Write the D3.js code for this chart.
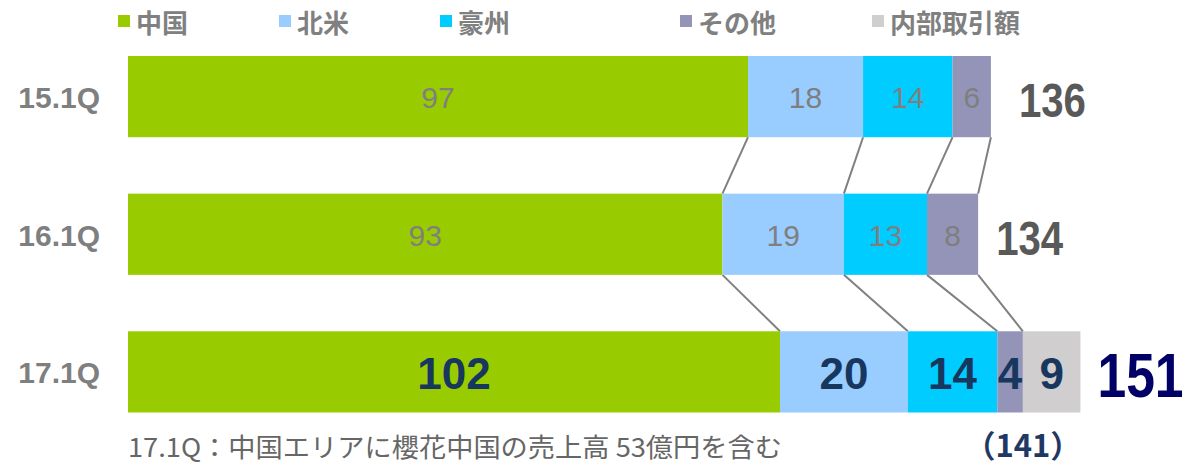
<!DOCTYPE html>
<html><head><meta charset="utf-8">
<script src="https://cdn.jsdelivr.net/npm/d3@7"></script>
<style>html,body{margin:0;padding:0;background:#fff;}svg{display:block;}</style>
</head><body>
<svg id="chart" width="1183" height="464"></svg>
<script>
// ---- data ----
const categories = ["15.1Q", "16.1Q", "17.1Q"];
const seriesNames = ["中国", "北米", "豪州", "その他", "内部取引額"];
const china = [97, 93, 102];
const northAmerica = [18, 19, 20];
const australia = [14, 13, 14];
const others = [6, 8, 4];
const internalTx = [0, 0, 9];
const totals = [136, 134, 151];
const externalTotal17 = 141;
const footnote = "17.1Q：中国エリアに櫻花中国の売上高 53億円を含む";

// ---- styles / layout ----
const colors = ["#99cc00", "#99ccff", "#00ccff", "#9494b8", "#d0cece"];
const legendX = [118, 279, 440, 680, 872];
const totalNudge = [28, 18, 17];

const svg = d3.select("#chart");
const seriesValues = [china, northAmerica, australia, others, internalTx];

const x = d3.scaleLinear().domain([0, 165]).range([128, 128 + 6.392 * 165]);
const y = d3.scaleBand().domain(categories).range([56, 412.5]).paddingInner(0.41).paddingOuter(0);
const bw = y.bandwidth();

// build stacked rows
const rows = categories.map((c, i) => {
  const obj = {cat: c};
  seriesNames.forEach((s, k) => obj[s] = seriesValues[k][i]);
  return obj;
});
const stack = d3.stack().keys(seriesNames)(rows);

// connectors
const conn = svg.append("g");
for (let i = 0; i < categories.length - 1; i++) {
  for (let k = 0; k < 4; k++) {
    conn.append("line")
      .attr("x1", x(stack[k][i][1])).attr("y1", y(categories[i]) + bw)
      .attr("x2", x(stack[k][i + 1][1])).attr("y2", y(categories[i + 1]))
      .attr("stroke", "#808080").attr("stroke-width", 2);
  }
}

// bars
stack.forEach((layer, k) => {
  svg.append("g").selectAll("rect").data(layer).join("rect")
    .attr("x", d => x(d[0]))
    .attr("y", d => y(d.data.cat))
    .attr("width", d => x(d[1]) - x(d[0]))
    .attr("height", bw)
    .attr("fill", colors[k]);
});

// inside labels
stack.forEach((layer, k) => {
  layer.forEach((d, i) => {
    const v = d[1] - d[0];
    if (!v) return;
    const last = i === categories.length - 1;
    svg.append("text")
      .attr("x", (x(d[0]) + x(d[1])) / 2)
      .attr("y", y(d.data.cat) + bw / 2 + (last ? 2 : 1))
      .attr("text-anchor", "middle")
      .attr("dominant-baseline", "central")
      .attr("font-family", "Liberation Sans, Arial, sans-serif")
      .attr("font-size", last ? 44 : 30)
      .attr("font-weight", last ? "bold" : "normal")
      .attr("fill", last ? "#17375e" : "#7f7f7f")
      .text(v);
  });
});

// category labels
svg.append("g").selectAll("text").data(categories).join("text")
  .attr("x", 100).attr("y", d => y(d) + bw / 2 + 1)
  .attr("text-anchor", "end").attr("dominant-baseline", "central")
  .attr("font-family", "Liberation Sans, Arial, sans-serif")
  .attr("font-size", 30).attr("font-weight", "bold")
  .attr("fill", "#7f7f7f")
  .text(d => d);

// totals
categories.forEach((c, i) => {
  const end = stack[stack.length - 1][i][1];
  const last = i === categories.length - 1;
  const tx = x(end) + totalNudge[i];
  const ty = y(c) + bw / 2 + 3;
  svg.append("text")
    .attr("transform", `translate(${tx},${ty}) scale(0.82,1)`)
    .attr("dominant-baseline", "central")
    .attr("font-family", "Liberation Sans, Arial, sans-serif")
    .attr("font-size", last ? 63 : 49).attr("font-weight", "bold")
    .attr("fill", last ? "#000066" : "#595959")
    .text(totals[i]);
});

// (141) note
{
  const i = categories.length - 1;
  const cx = x(stack[3][i][1]);
  svg.append("text")
    .attr("x", cx).attr("y", 443)
    .attr("text-anchor", "middle").attr("dominant-baseline", "central")
    .attr("font-family", "Noto Sans CJK JP, sans-serif")
    .attr("font-size", 31).attr("font-weight", "bold")
    .attr("fill", "#1f3864")
    .text("（" + externalTotal17 + "）");
}

// footnote
svg.append("text")
  .attr("x", 128).attr("y", 445)
  .attr("dominant-baseline", "central")
  .attr("font-family", "Noto Sans CJK JP, sans-serif")
  .attr("font-size", 26)
  .attr("fill", "#666666")
  .attr("textLength", 654).attr("lengthAdjust", "spacingAndGlyphs")
  .text(footnote);

// legend
const lg = svg.append("g");
seriesNames.forEach((s, k) => {
  lg.append("rect").attr("x", legendX[k]).attr("y", 15).attr("width", 12).attr("height", 12).attr("fill", colors[k]);
  lg.append("text").attr("x", legendX[k] + 18).attr("y", 21)
    .attr("dominant-baseline", "central")
    .attr("font-family", "Noto Sans CJK JP, sans-serif")
    .attr("font-size", 26).attr("font-weight", "bold")
    .attr("fill", "#808080")
    .text(s);
});
</script>
</body></html>
